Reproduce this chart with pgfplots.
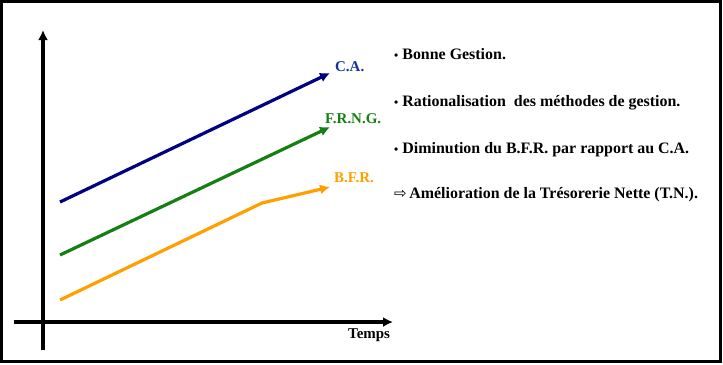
\documentclass[border=0pt]{standalone}
\usepackage{pgfplots}
\pgfplotsset{compat=1.18}
\usetikzlibrary{arrows.meta}
\usepackage{fontspec}
\setmainfont{Liberation Serif}
\newfontfamily\dejavu{DejaVu Sans}
\definecolor{cablue}{RGB}{0,0,128}
\definecolor{calabel}{RGB}{20,50,150}
\definecolor{frgreen}{RGB}{20,128,20}
\definecolor{bforange}{RGB}{255,160,0}
\begin{document}
\begin{tikzpicture}[x=1bp,y=1bp]
\path[use as bounding box] (0,0) rectangle (723,-364);
\draw[line width=3bp] (1.5,-1.5) rectangle (720.5,-361.5);
\begin{axis}[at={(14bp,-350bp)}, anchor=south west, scale only axis,
  width=379bp, height=320bp, xmin=-29, xmax=350, ymin=-28, ymax=292,
  axis lines=middle,
  x axis line style={line width=3.2bp, -{Latex[length=10bp,width=10bp]}},
  y axis line style={line width=3.2bp, -{Latex[length=10bp,width=10bp]}},
  xtick=\empty, ytick=\empty, clip=false]
\addplot[cablue, line width=3.2bp, -{Latex[length=10bp,width=10bp]}] coordinates {(17,120) (287,249)};
\addplot[frgreen, line width=3.2bp, -{Latex[length=10bp,width=10bp]}] coordinates {(17,67) (287,195)};
\addplot[bforange, line width=3.2bp, -{Latex[length=10bp,width=10bp]}] coordinates {(17,22) (219,119) (287,135)};
\end{axis}
\begin{scope}[every node/.style={inner sep=0pt, anchor=base west, font=\bfseries\fontsize{15}{18}\selectfont}]
\node[text=calabel] at (335,-71) {C.A.};
\node[text=frgreen] at (325,-123) {F.R.N.G.};
\node[text=bforange] at (334,-182) {B.F.R.};
\node at (348,-338) {Temps};
\end{scope}
\begin{scope}[every node/.style={inner sep=0pt, anchor=base west, font=\bfseries\fontsize{16}{19}\selectfont}]
\node at (394,-59) {{\fontsize{12}{12}\selectfont\textbullet}\ Bonne Gestion.};
\node at (394,-106) {{\fontsize{12}{12}\selectfont\textbullet}\ Rationalisation\ \ des méthodes de gestion.};
\node at (394,-153) {{\fontsize{12}{12}\selectfont\textbullet}\ Diminution du B.F.R. par rapport au C.A.};
\node at (394,-198) {{\dejavu\mdseries\fontsize{15}{15}\selectfont ⇨}\,Amélioration de la Trésorerie Nette (T.N.).};
\end{scope}
\end{tikzpicture}
\end{document}
